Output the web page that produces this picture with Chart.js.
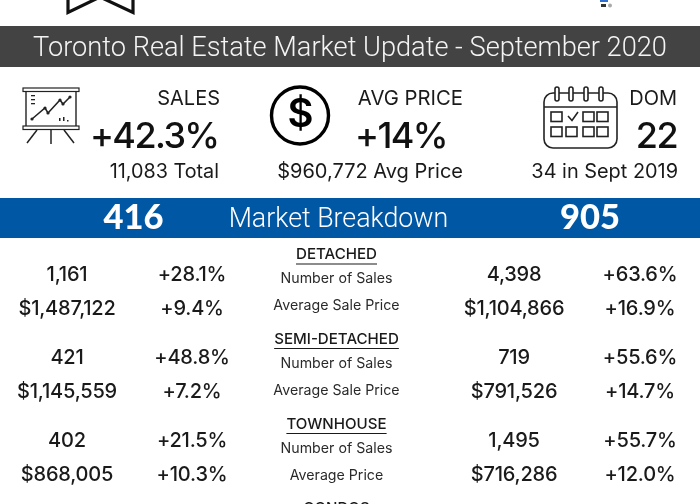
<!DOCTYPE html>
<html>
<head>
<meta charset="utf-8">
<title>Toronto Real Estate Market Update</title>
<script src="https://cdn.jsdelivr.net/npm/chart.js@4"></script>
<style>
    html, body { margin: 0; padding: 0; background: #fff; }
    canvas { display: block; }
</style>
</head>
<body>
<canvas id="grafico" width="700" height="504"></canvas>
<script>
// valores
const titulo = 'Toronto Real Estate Market Update - September 2020';
const secciones = ['DETACHED', 'SEMI-DETACHED', 'TOWNHOUSE', 'CONDOS'];
const etiquetasVentas = ['Number of Sales', 'Number of Sales', 'Number of Sales'];
const etiquetasPrecio = ['Average Sale Price', 'Average Sale Price', 'Average Price'];
const ventas416 = ['1,161', '421', '402'];
const cambioVentas416 = ['+28.1%', '+48.8%', '+21.5%'];
const precio416 = ['$1,487,122', '$1,145,559', '$868,005'];
const cambioPrecio416 = ['+9.4%', '+7.2%', '+10.3%'];
const ventas905 = ['4,398', '719', '1,495'];
const cambioVentas905 = ['+63.6%', '+55.6%', '+55.7%'];
const precio905 = ['$1,104,866', '$791,526', '$716,286'];
const cambioPrecio905 = ['+16.9%', '+14.7%', '+12.0%'];

// posiciones de la tabla
const colConteo416 = 67, colCambio416 = 192, colCentro = 336.5, colConteo905 = 514, colCambio905 = 640;
const filaVentas = [275, 358, 441];
const filaPrecio = [309, 392, 475];
const filaEtiquetaVentas = [279, 364, 449];
const filaEtiquetaPrecio = [306, 391, 476];
const filaSeccion = [254.5, 339, 424, 508];

const FUENTE = 'Inter, "Noto Sans", sans-serif';

function puntos(textos, x, filas) {
    return textos.map((texto, i) => ({ x: x, y: filas[i], texto: texto }));
}

const datasets = [
    { estilo: 'valor', data: puntos(ventas416, colConteo416, filaVentas) },
    { estilo: 'valor', data: puntos(cambioVentas416, colCambio416, filaVentas) },
    { estilo: 'valor', data: puntos(precio416, colConteo416, filaPrecio) },
    { estilo: 'valor', data: puntos(cambioPrecio416, colCambio416, filaPrecio) },
    { estilo: 'valor', data: puntos(ventas905, colConteo905, filaVentas) },
    { estilo: 'valor', data: puntos(cambioVentas905, colCambio905, filaVentas) },
    { estilo: 'valor', data: puntos(precio905, colConteo905, filaPrecio) },
    { estilo: 'valor', data: puntos(cambioPrecio905, colCambio905, filaPrecio) },
    { estilo: 'etiqueta', data: puntos(etiquetasVentas, colCentro, filaEtiquetaVentas) },
    { estilo: 'etiqueta', data: puntos(etiquetasPrecio, colCentro, filaEtiquetaPrecio) },
    { estilo: 'seccion', data: puntos(secciones, colCentro, filaSeccion) }
];

function texto(ctx, t, x, y, size, weight, align, color, familia, espacio) {
    ctx.font = weight + ' ' + size + 'px ' + (familia || FUENTE);
    ctx.textAlign = align || 'center';
    ctx.textBaseline = 'middle';
    ctx.fillStyle = color || '#1a1a1a';
    ctx.letterSpacing = (espacio || 0) + 'px';
    ctx.fillText(t, x, y);
    ctx.letterSpacing = '0px';
}

function linea(ctx, pts, ancho) {
    ctx.beginPath();
    pts.forEach((p, i) => i ? ctx.lineTo(p[0], p[1]) : ctx.moveTo(p[0], p[1]));
    ctx.lineWidth = ancho;
    ctx.stroke();
}

function dibujarIconos(ctx) {
    ctx.save();
    ctx.strokeStyle = '#111';
    ctx.lineJoin = 'miter';
    // marca superior
    linea(ctx, [[68, -4], [68, 12.5], [100, -3], [133, 12.5], [133, -4]], 3.2);
    // logo pequeno
    ctx.fillStyle = '#2f6fd0';
    ctx.fillRect(600, 0, 8, 2);
    ctx.fillStyle = '#333';
    ctx.fillRect(601, 4, 5, 3);
    ctx.fillStyle = '#aaa';
    ctx.beginPath(); ctx.arc(610, 5.5, 2, 0, Math.PI * 2); ctx.fill();

    // pizarra
    ctx.strokeStyle = '#222';
    ctx.lineWidth = 1.2;
    ctx.strokeRect(23, 88, 56, 3.5);
    ctx.strokeRect(23, 126, 56, 3.5);
    linea(ctx, [[26, 92], [26, 126]], 1.4);
    linea(ctx, [[76, 92], [76, 126]], 1.4);
    linea(ctx, [[37, 130], [27, 143]], 1.5);
    linea(ctx, [[51, 130], [51, 144]], 1.5);
    linea(ctx, [[64, 130], [74, 143]], 1.5);
    const tendencia = [[32, 119], [45, 108], [48, 113], [60, 100], [63, 104], [70, 97]];
    linea(ctx, tendencia, 1.5);
    ctx.fillStyle = '#222';
    tendencia.forEach(p => {
        ctx.beginPath(); ctx.arc(p[0], p[1], 1.6, 0, Math.PI * 2); ctx.fill();
    });
    ctx.fillRect(31, 95, 4, 1.3);
    ctx.fillRect(31, 99, 4, 1.3);
    ctx.fillRect(31, 103, 4, 1.3);
    ctx.fillRect(59, 118, 1.5, 3);
    ctx.fillRect(63, 117, 1.5, 4);
    ctx.fillRect(67, 120, 1.5, 1.5);

    // moneda
    ctx.strokeStyle = '#000';
    ctx.beginPath();
    ctx.arc(300, 115.5, 28.5, 0, Math.PI * 2);
    ctx.lineWidth = 3.4;
    ctx.stroke();
    texto(ctx, '$', 300.5, 115, 40, 600, 'center', '#000');

    // calendario
    ctx.strokeStyle = '#222';
    ctx.lineWidth = 1.6;
    ctx.beginPath();
    ctx.roundRect(544, 93, 73, 55, 9);
    ctx.stroke();
    linea(ctx, [[544, 107], [617, 107]], 1.6);
    [557, 571, 586, 601].forEach(x => {
        ctx.fillStyle = '#fff';
        ctx.beginPath();
        ctx.roundRect(x - 2, 87, 4, 14, 2);
        ctx.fill();
        ctx.stroke();
    });
    [[551, 112], [583, 112], [597, 112], [551, 127], [566, 127], [583, 127], [597, 127]].forEach(c => {
        ctx.strokeRect(c[0], c[1], 11, 9.5);
    });
    linea(ctx, [[568, 116], [572, 120.5], [578, 112]], 1.6);
    ctx.restore();
}

const pluginInfografia = {
    id: 'infografia',
    beforeDraw(chart) {
        const ctx = chart.ctx;
        const x = chart.scales.x, y = chart.scales.y;
        ctx.save();
        // bandas
        ctx.fillStyle = '#434343';
        ctx.fillRect(x.left, y.getPixelForValue(26), x.width, 41);
        ctx.fillStyle = '#0057a4';
        ctx.fillRect(x.left, y.getPixelForValue(198), x.width, 40);
        ctx.restore();
    },
    afterDatasetsDraw(chart) {
        const ctx = chart.ctx;
        ctx.save();
        dibujarIconos(ctx);

        texto(ctx, titulo, 350, 49, 27.2, 300, 'center', '#f4f4f4', 'Roboto, sans-serif');

        texto(ctx, 'SALES', 220, 99, 20, 400, 'right');
        texto(ctx, '+42.3%', 218.5, 137, 36, 500, 'right', '#111', null, -1.6);
        texto(ctx, '11,083 Total', 219, 172, 19.8, 400, 'right');

        texto(ctx, 'AVG PRICE', 463, 99, 20.3, 400, 'right');
        texto(ctx, '+14%', 447, 137, 36, 500, 'right', '#111', null, -1.6);
        texto(ctx, '$960,772 Avg Price', 463, 172, 20, 400, 'right');

        texto(ctx, 'DOM', 677, 99, 20, 400, 'right');
        texto(ctx, '22', 677, 137, 36, 500, 'right', '#111', null, -1.6);
        texto(ctx, '34 in Sept 2019', 678, 172, 19.9, 400, 'right');

        texto(ctx, '416', 133.5, 218, 34.5, 900, 'center', '#fff', 'Lato, sans-serif');
        texto(ctx, 'Market Breakdown', 338.5, 220, 26.8, 300, 'center', '#fff', 'Roboto, sans-serif');
        texto(ctx, '905', 590, 218, 34.5, 900, 'center', '#fff', 'Lato, sans-serif');

        // tabla: cada texto se coloca con las escalas del grafico
        chart.data.datasets.forEach(ds => {
            ds.data.forEach(p => {
                const px = chart.scales.x.getPixelForValue(p.x);
                const py = chart.scales.y.getPixelForValue(p.y);
                if (ds.estilo === 'valor') {
                    texto(ctx, p.texto, px, py, 20, 500, 'center', '#1a1a1a', null, -0.2);
                } else if (ds.estilo === 'etiqueta') {
                    texto(ctx, p.texto, px, py, 14.2, 400, 'center', '#2a2a2a');
                } else {
                    texto(ctx, p.texto, px, py, 15.1, 500, 'center', '#1a1a1a');
                    const ancho = ctx.measureText(p.texto).width;
                    ctx.fillStyle = '#1a1a1a';
                    ctx.fillRect(px - ancho / 2, py + 9, ancho, 1);
                }
            });
        });
        ctx.restore();
    }
};

const chart = new Chart(document.getElementById('grafico'), {
    type: 'scatter',
    data: { datasets: datasets },
    options: {
        responsive: false,
        animation: false,
        layout: { padding: 0 },
        elements: { point: { radius: 0 } },
        plugins: { legend: { display: false }, tooltip: { enabled: false } },
        scales: {
            x: { type: 'linear', min: 0, max: 700, display: false },
            y: { type: 'linear', min: 0, max: 504, reverse: true, display: false }
        }
    },
    plugins: [pluginInfografia]
});
</script>
</body>
</html>
